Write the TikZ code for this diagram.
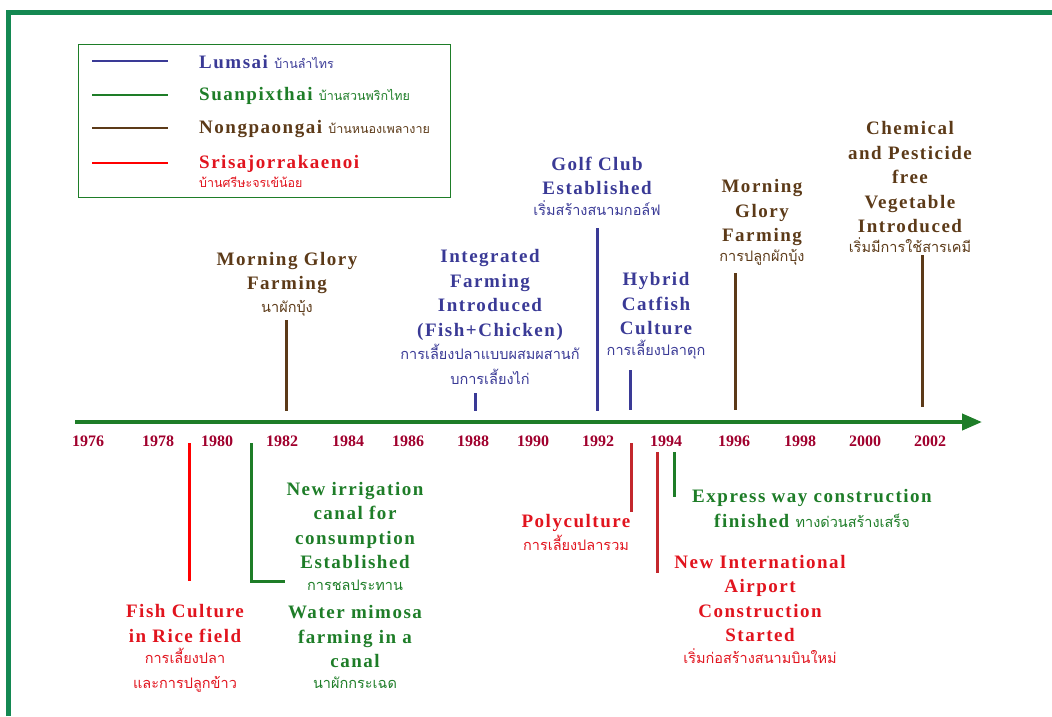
\documentclass[tikz,border=0pt]{standalone}
\usepackage{fontspec}
\setmainfont{Liberation Serif}
\newfontfamily\lblfont[LetterSpace=8]{Liberation Serif}
\newfontfamily\thaifont[Script=Thai]{Loma}
\usetikzlibrary{arrows.meta}

\definecolor{frameGreen}{RGB}{20,136,82}
\definecolor{lumBlue}{RGB}{58,58,150}
\definecolor{suanGreen}{RGB}{30,125,40}
\definecolor{nongBrown}{RGB}{92,58,24}
\definecolor{sriRed}{RGB}{225,20,30}
\definecolor{tickRed}{RGB}{195,40,45}
\definecolor{yearRed}{RGB}{160,0,45}

\newcommand{\thtext}[1]{{\thaifont\mdseries\fontsize{14.5}{20}\selectfont #1}}
\newcommand{\thlegend}[1]{{\thaifont\mdseries\fontsize{12.5}{16}\selectfont #1}}

\begin{document}
\begin{tikzpicture}[x = 1pt, y = -1pt]
	\tikzstyle{frameStyle} = [draw = frameGreen, line width = 5pt]
	\tikzstyle{labelStyle} = [align = center, inner sep = 0pt, anchor = base, font = \lblfont\bfseries\fontsize{19}{24.5}\selectfont]
	\tikzstyle{legendStyle} = [align = left, inner sep = 0pt, anchor = base west, font = \lblfont\bfseries\fontsize{19}{24.5}\selectfont]
	\tikzstyle{yearStyle} = [inner sep = 0pt, anchor = base, text = yearRed, font = \bfseries\fontsize{16}{18}\selectfont]
	\tikzstyle{axisStyle} = [draw = suanGreen, line width = 4pt, -{Triangle[length = 20pt, width = 16pt]}]
	\tikzstyle{tickStyle} = [line width = 3pt]
	\useasboundingbox (0,0) rectangle (1052,716);
	% frame
	\draw[frameStyle] (8.5,716) -- (8.5,12.5) -- (1052,12.5);
	% legend
	\node[draw = suanGreen, line width = 1.2pt, minimum width = 372pt, minimum height = 153pt, anchor = north west] (legend) at (78,44) {};
	\draw[lumBlue, line width = 2pt] (92,61) -- (168,61);
	\draw[suanGreen, line width = 2pt] (92,95) -- (168,95);
	\draw[nongBrown, line width = 2pt] (92,128) -- (168,128);
	\draw[red, line width = 2pt] (92,163) -- (168,163);
	\node[legendStyle, text = lumBlue] (lum) at (199,68) {Lumsai \thlegend{บ้านลำไทร}};
	\node[legendStyle, text = suanGreen] (suan) at (199,100) {Suanpixthai \thlegend{บ้านสวนพริกไทย}};
	\node[legendStyle, text = nongBrown] (nong) at (199,133) {Nongpaongai \thlegend{บ้านหนองเพลางาย}};
	\node[legendStyle, text = sriRed] (sri) at (199,187) {Srisajorrakaenoi\\[-5.5pt]\thlegend{บ้านศรีษะจรเข้น้อย}};
	% axis and years
	\coordinate (axisStart) at (75,422);
	\coordinate (axisEnd) at (982,422);
	\draw[axisStyle] (axisStart) -- (axisEnd);
	\foreach \x/\yr in {88/1976, 158/1978, 217/1980, 282/1982, 348/1984, 408/1986, 473/1988, 533/1990, 598/1992, 666/1994, 734/1996, 800/1998, 865/2000, 930/2002}
		\node[yearStyle] (y\yr) at (\x,446) {\yr};
	% events above the axis
	\node[labelStyle, text = nongBrown] (n1) at (287,312) {Morning Glory\\Farming\\[-2pt]\thtext{นาผักบุ้ง}};
	\node[labelStyle, text = lumBlue] (n2) at (490,384) {Integrated\\Farming\\Introduced\\(Fish+Chicken)\\[-1pt]\thtext{การเลี้ยงปลาแบบผสมผสานกั}\\\thtext{บการเลี้ยงไก่}};
	\node[labelStyle, text = lumBlue] (n3) at (597,215) {Golf Club\\Established\\[-4pt]\thtext{เริ่มสร้างสนามกอล์ฟ}};
	\node[labelStyle, text = lumBlue] (n4) at (656,355) {Hybrid\\Catfish\\Culture\\[-4pt]\thtext{การเลี้ยงปลาดุก}};
	\node[labelStyle, text = nongBrown] (n5) at (762,261) {Morning\\Glory\\Farming\\[-5pt]\thtext{การปลูกผักบุ้ง}};
	\node[labelStyle, text = nongBrown] (n6) at (910,252) {Chemical\\and Pesticide\\free\\Vegetable\\Introduced\\[-5pt]\thtext{เริ่มมีการใช้สารเคมี}};
	\coordinate (t1) at (286,320);   \coordinate (a1) at (286,411);
	\coordinate (t2) at (475,393);   \coordinate (a2) at (475,411);
	\coordinate (t3) at (597,228);   \coordinate (a3) at (597,411);
	\coordinate (t4) at (630,370);   \coordinate (a4) at (630,410);
	\coordinate (t5) at (735,273);   \coordinate (a5) at (735,410);
	\coordinate (t6) at (922,255);   \coordinate (a6) at (922,407);
	\draw[tickStyle, nongBrown] (t1) -- (a1);
	\draw[tickStyle, lumBlue] (t2) -- (a2);
	\draw[tickStyle, lumBlue] (t3) -- (a3);
	\draw[tickStyle, lumBlue] (t4) -- (a4);
	\draw[tickStyle, nongBrown] (t5) -- (a5);
	\draw[tickStyle, nongBrown] (t6) -- (a6);
	% events below the axis
	\node[labelStyle, text = sriRed] (n7) at (185,688) {Fish Culture\\in Rice field\\[-3pt]\thtext{การเลี้ยงปลา}\\\thtext{และการปลูกข้าว}};
	\node[labelStyle, text = suanGreen] (n8) at (355,590) {New irrigation\\canal for\\consumption\\Established\\[-3pt]\thtext{การชลประทาน}};
	\node[labelStyle, text = suanGreen] (n9) at (355,688) {Water mimosa\\farming in a\\canal\\[-4pt]\thtext{นาผักกระเฉด}};
	\node[labelStyle, text = sriRed] (n10) at (576,550) {Polyculture\\[-2pt]\thtext{การเลี้ยงปลารวม}};
	\node[labelStyle, text = suanGreen] (n11) at (812,527) {Express way construction\\finished \thtext{ทางด่วนสร้างเสร็จ}};
	\node[labelStyle, text = sriRed] (n12) at (760,663) {New International\\Airport\\Construction\\Started\\[-3pt]\thtext{เริ่มก่อสร้างสนามบินใหม่}};
	\coordinate (b7) at (189,443);   \coordinate (e7) at (189,581);
	\coordinate (b8) at (251,443);   \coordinate (c8) at (251,581);   \coordinate (e8) at (285,581);
	\coordinate (b10) at (631,443);  \coordinate (e10) at (631,512);
	\coordinate (b12) at (657,452);  \coordinate (e12) at (657,573);
	\coordinate (b11) at (674,452);  \coordinate (e11) at (674,497);
	\draw[tickStyle, red] (b7) -- (e7);
	\draw[tickStyle, suanGreen] (b8) -- (c8) -- (e8);
	\draw[tickStyle, tickRed] (b10) -- (e10);
	\draw[tickStyle, tickRed] (b12) -- (e12);
	\draw[tickStyle, suanGreen] (b11) -- (e11);
\end{tikzpicture}
\end{document}
